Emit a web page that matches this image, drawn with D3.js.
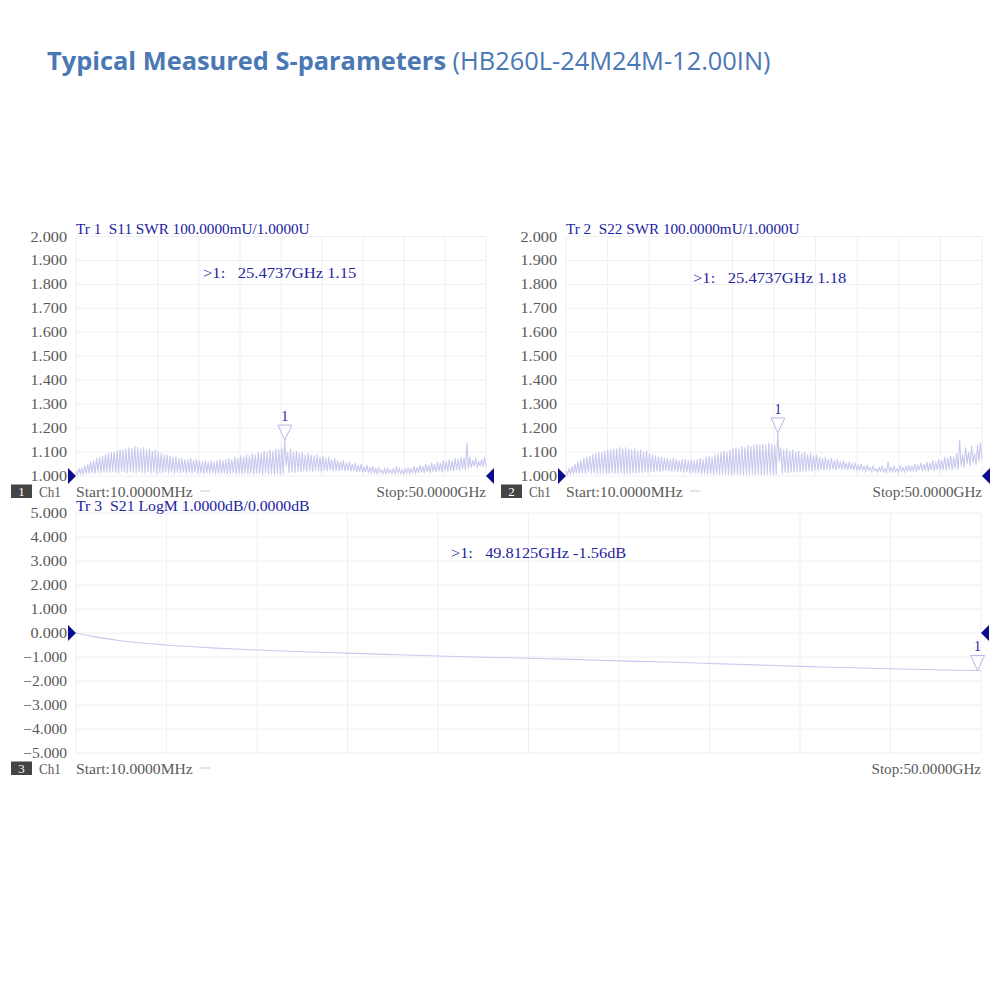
<!DOCTYPE html>
<html>
<head>
<meta charset="utf-8">
<script src="https://cdn.jsdelivr.net/npm/d3@7"></script>
<style>
  html, body { margin: 0; padding: 0; background: #ffffff; }
  svg { display: block; }
</style>
</head>
<body>
<svg id="chart" width="1000" height="1000"></svg>
<script>
// ---------------- DATA ----------------
const titleBold = "Typical Measured S-parameters";
const titleRest = "(HB260L-24M24M-12.00IN)";

// VNA sweep (GHz)
const sweepStart = 0.01;
const sweepStop = 50;
const sweepPoints = 280;

// S11 SWR: ripple maxima / minima read along the sweep
const s11Peaks = [
  1.02,1.03,1.035,1.045,1.05,1.06,1.065,1.075,1.08,1.085,
  1.09,1.095,1.10,1.10,1.105,1.11,1.11,1.115,1.12,1.115,
  1.125,1.12,1.115,1.12,1.11,1.115,1.105,1.11,1.10,1.095,
  1.09,1.09,1.085,1.08,1.08,1.075,1.075,1.07,1.07,1.075,
  1.065,1.07,1.065,1.06,1.065,1.06,1.065,1.06,1.065,1.07,
  1.065,1.07,1.075,1.07,1.08,1.075,1.085,1.08,1.09,1.085,
  1.095,1.09,1.10,1.095,1.105,1.10,1.11,1.105,1.115,1.11,
  1.12,1.15,1.10,1.115,1.10,1.105,1.095,1.10,1.09,1.095,
  1.09,1.085,1.09,1.08,1.085,1.075,1.08,1.07,1.075,1.065,
  1.06,1.065,1.055,1.06,1.05,1.055,1.045,1.05,1.04,1.045,
  1.035,1.04,1.03,1.035,1.025,1.03,1.035,1.025,1.03,1.04,
  1.03,1.025,1.03,1.035,1.03,1.04,1.035,1.045,1.04,1.05,
  1.045,1.055,1.05,1.06,1.055,1.065,1.06,1.07,1.065,1.075,
  1.07,1.08,1.075,1.14,1.08,1.065,1.075,1.06,1.07,1.08
];
const s11Troughs = [
  1.005,1.01,1.005,1.01,1.01,1.012,1.01,1.015,1.012,1.015,
  1.015,1.012,1.018,1.015,1.012,1.018,1.015,1.012,1.016,1.014,
  1.012,1.016,1.014,1.01,1.016,1.012,1.015,1.01,1.014,1.012,
  1.016,1.012,1.015,1.01,1.014,1.012,1.016,1.01,1.014,1.012,
  1.015,1.01,1.012,1.008,1.012,1.01,1.013,1.008,1.012,1.01,
  1.012,1.008,1.01,1.012,1.008,1.01,1.006,1.01,1.008,1.01,
  1.006,1.01,1.008,1.005,1.01,1.006,1.008,1.005,1.01,1.006,
  1.008,1.04,1.012,1.016,1.014,1.018,1.015,1.02,1.016,1.02,
  1.018,1.022,1.02,1.018,1.022,1.02,1.024,1.02,1.022,1.02,
  1.024,1.02,1.022,1.018,1.02,1.016,1.018,1.014,1.016,1.012,
  1.015,1.012,1.01,1.014,1.01,1.008,1.012,1.01,1.008,1.012,
  1.01,1.008,1.012,1.01,1.014,1.01,1.012,1.015,1.012,1.016,
  1.014,1.018,1.015,1.02,1.016,1.02,1.018,1.022,1.02,1.025,
  1.022,1.028,1.025,1.03,1.035,1.04,1.035,1.04,1.038,1.04
];

// S22 SWR
const s22Peaks = [
  1.02,1.03,1.04,1.05,1.06,1.065,1.075,1.08,1.085,1.09,
  1.095,1.10,1.10,1.105,1.11,1.11,1.115,1.115,1.12,1.115,
  1.12,1.115,1.11,1.115,1.105,1.11,1.10,1.105,1.095,1.09,
  1.085,1.08,1.08,1.075,1.075,1.07,1.075,1.07,1.065,1.07,
  1.07,1.065,1.07,1.065,1.07,1.075,1.07,1.08,1.085,1.08,
  1.09,1.095,1.10,1.105,1.10,1.11,1.115,1.12,1.115,1.125,
  1.12,1.13,1.125,1.13,1.135,1.13,1.135,1.13,1.14,1.135,
  1.13,1.18,1.12,1.11,1.115,1.105,1.11,1.10,1.105,1.095,
  1.10,1.09,1.095,1.085,1.09,1.08,1.075,1.08,1.07,1.075,
  1.065,1.07,1.06,1.065,1.055,1.06,1.05,1.055,1.045,1.05,
  1.04,1.045,1.035,1.04,1.03,1.035,1.04,1.03,1.06,1.035,
  1.04,1.03,1.045,1.035,1.04,1.045,1.04,1.05,1.045,1.055,
  1.05,1.06,1.055,1.065,1.06,1.07,1.065,1.08,1.075,1.085,
  1.08,1.095,1.15,1.09,1.12,1.10,1.125,1.095,1.13,1.14
];
const s22Troughs = [
  1.005,1.01,1.008,1.012,1.01,1.012,1.01,1.014,1.01,1.012,
  1.01,1.008,1.012,1.01,1.008,1.012,1.01,1.008,1.01,1.006,
  1.01,1.008,1.012,1.01,1.014,1.012,1.016,1.014,1.018,1.016,
  1.02,1.018,1.02,1.022,1.02,1.018,1.02,1.016,1.018,1.014,
  1.016,1.012,1.014,1.01,1.012,1.008,1.01,1.006,1.008,1.005,
  1.008,1.005,1.006,1.004,1.006,1.004,1.006,1.004,1.005,1.004,
  1.005,1.004,1.006,1.004,1.005,1.003,1.005,1.004,1.006,1.004,
  1.005,1.06,1.01,1.014,1.012,1.016,1.014,1.018,1.016,1.02,
  1.018,1.022,1.02,1.024,1.022,1.025,1.022,1.026,1.024,1.028,
  1.025,1.03,1.026,1.028,1.025,1.028,1.024,1.026,1.022,1.025,
  1.02,1.024,1.018,1.022,1.016,1.02,1.018,1.015,1.02,1.016,
  1.018,1.014,1.02,1.016,1.02,1.018,1.022,1.018,1.024,1.02,
  1.022,1.018,1.024,1.02,1.025,1.022,1.026,1.022,1.028,1.024,
  1.03,1.026,1.04,1.035,1.05,1.04,1.055,1.045,1.06,1.07
];

// S21 LogM (dB)
const s21Freq = [0.01, 1, 2.5, 5, 7.5, 10, 12.5, 15, 17.5, 20, 22.5, 25, 27.5, 30, 32.5, 35, 37.5, 40, 42.5, 45, 47.5, 49.8125, 50];
const s21Values = [0, -0.15, -0.32, -0.5, -0.62, -0.71, -0.78, -0.84, -0.9, -0.96, -1.01, -1.05, -1.1, -1.16, -1.21, -1.27, -1.33, -1.39, -1.44, -1.49, -1.53, -1.56, -1.56];

const swrTicks = [1.0, 1.1, 1.2, 1.3, 1.4, 1.5, 1.6, 1.7, 1.8, 1.9, 2.0];
const dbTicks = [-5, -4, -3, -2, -1, 0, 1, 2, 3, 4, 5];

const headers = ["Tr 1  S11 SWR 100.0000mU/1.0000U", "Tr 2  S22 SWR 100.0000mU/1.0000U", "Tr 3  S21 LogM 1.0000dB/0.0000dB"];
const markerTexts = [">1:   25.4737GHz 1.15", ">1:   25.4737GHz 1.18", ">1:   49.8125GHz -1.56dB"];
const markerFreqs = [25.4737, 25.4737, 49.8125];
const markerVals = [1.15, 1.18, -1.56];
const channelNums = ["1", "2", "3"];
const startLabel = "Start:10.0000MHz";
const stopLabel = "Stop:50.0000GHz";

// ---------------- DRAW ----------------
const svg = d3.select("#chart");
const CW = 7.3; // fixed-pitch character width
const serif = "'Liberation Serif', 'DejaVu Serif', serif";
const traceColor = "#c9c9ef";
const gridColor = "#efeff5";
const blue = "#2323a0";
const grayText = "#5a5a5a";

function monoText(g, str, x, y, anchor, color, size) {
  const t = g.append("text")
    .attr("x", x).attr("y", y)
    .attr("font-family", serif)
    .attr("font-size", size || 14)
    .attr("fill", color)
    .attr("text-anchor", anchor || "start")
    .attr("textLength", str.length * CW)
    .attr("lengthAdjust", "spacingAndGlyphs")
    .style("white-space", "pre")
    .attr("xml:space", "preserve")
    .text(str);
  return t;
}

// Title
const title = svg.append("text")
  .attr("x", 47).attr("y", 70)
  .attr("font-family", "'Open Sans', sans-serif")
  .attr("font-size", 25.4)
  .attr("fill", "#4a78b4");
title.append("tspan").attr("font-weight", 700).text(titleBold + " ");
title.append("tspan").attr("font-weight", 400).text(titleRest);

const panels = [
  { x0: 76, x1: 486, y0: 236.5, y1: 476, domain: [1, 2], ticks: swrTicks, fmt: d3.format(".3f"),
    peaks: s11Peaks, troughs: s11Troughs, idx: 0, boxX: 11, footY: 497 },
  { x0: 566, x1: 982, y0: 236.5, y1: 476, domain: [1, 2], ticks: swrTicks, fmt: d3.format(".3f"),
    peaks: s22Peaks, troughs: s22Troughs, idx: 1, boxX: 501, footY: 497 },
  { x0: 76, x1: 981, y0: 513, y1: 753, domain: [-5, 5], ticks: dbTicks, fmt: d3.format(".3f"),
    idx: 2, boxX: 11, footY: 774 }
];

const markerTextPos = [[203, 278], [693, 283], [451, 558]];

panels.forEach(p => {
  const g = svg.append("g");
  const x = d3.scaleLinear().domain([sweepStart, sweepStop]).range([p.x0, p.x1]);
  const y = d3.scaleLinear().domain(p.domain).range([p.y1, p.y0]);

  // grid
  const xGrid = d3.range(11).map(i => sweepStart + i * (sweepStop - sweepStart) / 10);
  g.selectAll(".vg").data(xGrid).enter().append("line")
    .attr("x1", d => x(d)).attr("x2", d => x(d))
    .attr("y1", p.y0).attr("y2", p.y1)
    .attr("stroke", gridColor).attr("stroke-width", 1);
  g.selectAll(".hg").data(p.ticks).enter().append("line")
    .attr("x1", p.x0).attr("x2", p.x1)
    .attr("y1", d => y(d)).attr("y2", d => y(d))
    .attr("stroke", gridColor).attr("stroke-width", 1);

  // y tick labels
  p.ticks.forEach(t => {
    const s = p.fmt(t).replace("-", "\u2212");
    monoText(g, s, p.x0 - 9, y(t) + 5, "end", grayText, 14);
  });

  // trace
  let data;
  if (p.idx < 2) {
    data = d3.range(sweepPoints).map(i => ({
      f: sweepStart + i * (sweepStop - sweepStart) / (sweepPoints - 1),
      v: i % 2 === 0 ? p.peaks[i / 2] : p.troughs[(i - 1) / 2]
    }));
  } else {
    data = s21Freq.map((f, i) => ({ f: f, v: s21Values[i] }));
  }
  const line = d3.line().x(d => x(d.f)).y(d => y(d.v));
  if (p.idx === 2) line.curve(d3.curveMonotoneX);
  g.append("path").datum(data)
    .attr("d", line)
    .attr("fill", "none")
    .attr("stroke", traceColor)
    .attr("stroke-width", 1.1);

  // marker triangle
  const mx = x(markerFreqs[p.idx]);
  const my = y(markerVals[p.idx]);
  g.append("path")
    .attr("d", `M${mx},${my} L${mx - 7},${my - 15} L${mx + 7},${my - 15} Z`)
    .attr("fill", "none").attr("stroke", "#b8b8e6").attr("stroke-width", 1);
  g.append("text").attr("x", mx).attr("y", my - 19)
    .attr("text-anchor", "middle")
    .attr("font-family", serif).attr("font-size", 14)
    .attr("fill", blue).text("1");

  // reference-level arrows
  const refV = p.idx < 2 ? 1 : 0;
  const ry = y(refV);
  g.append("path")
    .attr("d", `M${p.x0 - 8},${ry - 8} L${p.x0},${ry} L${p.x0 - 8},${ry + 8} Z`)
    .attr("fill", "#0c0c8c");
  g.append("path")
    .attr("d", `M${p.x1 + 8},${ry - 8} L${p.x1},${ry} L${p.x1 + 8},${ry + 8} Z`)
    .attr("fill", "#0c0c8c");

  // header
  monoText(g, headers[p.idx], p.x0, p.y0 - 2.5, "start", blue, 14);

  // marker readout
  const mp = markerTextPos[p.idx];
  monoText(g, markerTexts[p.idx], mp[0], mp[1], "start", blue, 14);

  // footer
  g.append("rect").attr("x", p.boxX).attr("y", p.footY - 12.5)
    .attr("width", 21).attr("height", 13.5).attr("fill", "#444444");
  g.append("text").attr("x", p.boxX + 10.5).attr("y", p.footY - 1)
    .attr("text-anchor", "middle").attr("font-family", serif)
    .attr("font-size", 13).attr("fill", "#ffffff").text(channelNums[p.idx]);
  monoText(g, "Ch1", p.boxX + 28, p.footY, "start", grayText, 14);
  monoText(g, startLabel, p.x0, p.footY, "start", grayText, 14);
  g.append("line").attr("x1", p.x0 + 124).attr("x2", p.x0 + 134)
    .attr("y1", p.footY - 6).attr("y2", p.footY - 6)
    .attr("stroke", "#c8c8d8").attr("stroke-width", 1);
  monoText(g, stopLabel, p.x1, p.footY, "end", grayText, 14);
});
</script>
</body>
</html>
